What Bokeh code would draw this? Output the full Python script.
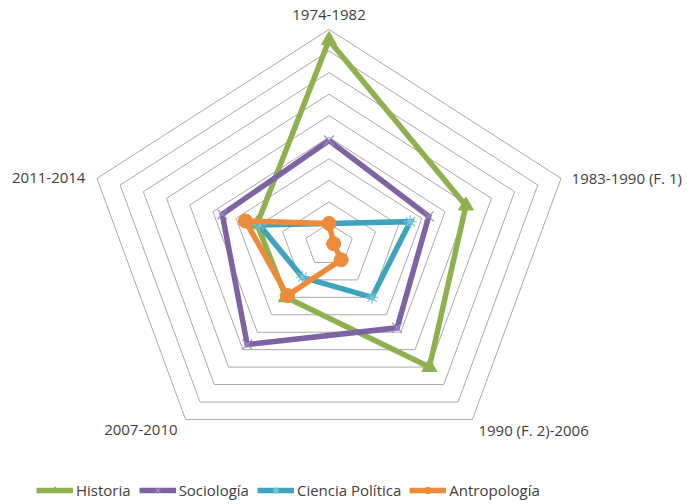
import numpy as np
from bokeh.plotting import figure
from bokeh.models import Range1d, Legend, LegendItem
from bokeh.core.properties import value
from bokeh.embed import file_html
from bokeh.resources import INLINE

# ---- data ----
categories = ["1974-1982", "1983-1990 (F. 1)", "1990 (F. 2)-2006", "2007-2010", "2011-2014"]
historia = [9.5, 5.9, 7.0, 3.0, 3.1]
sociologia = [4.85, 4.3, 4.75, 5.7, 4.6]
ciencia_politica = [1.0, 3.5, 3.0, 1.85, 3.0]
antropologia = [1.0, 0.2, 0.85, 2.9, 3.6]
series_names = ["Historia", "Sociología", "Ciencia Política", "Antropología"]
ring_values = list(range(1, 11))

# ---- geometry ----
W, H = 687, 504
RX, RY = 24.4, 21.56          # pixels per unit (chart is stretched horizontally)
n = len(categories)
theta = np.arange(n) * 2 * np.pi / n
sx, sy = np.sin(theta), np.cos(theta)

def to_xy(vals):
    v = np.asarray(vals, dtype=float)
    return list(RX * v * sx), list(RY * v * sy)

p = figure(width=W, height=H, output_backend="svg", toolbar_location=None,
           x_range=Range1d(-328.5, 358.5), y_range=Range1d(-259.5, 244.5),
           min_border=0)
p.axis.visible = False
p.grid.visible = False
p.outline_line_color = None
p.background_fill_color = "white"

# rings
ring_xs, ring_ys = [], []
for r in ring_values:
    xs, ys = to_xy([r] * n)
    ring_xs.append(xs + [xs[0]])
    ring_ys.append(ys + [ys[0]])
p.multi_line(ring_xs, ring_ys, line_color="#a9a9a9", line_width=1)

# series
styles = [
    dict(color="#8FB04F", marker="triangle", size=15, mcolor="#8FB04F", mfill="#8FB04F", mw=1),
    dict(color="#7F62A1", marker="x", size=14, mcolor="#A08BC2", mfill=None, mw=1.2),
    dict(color="#3EA4BE", marker="asterisk", size=13, mcolor="#7CC6DA", mfill=None, mw=1.2),
    dict(color="#EE8B3A", marker="circle", size=14, mcolor="#EE8B3A", mfill="#EE8B3A", mw=1),
]
all_series = [historia, sociologia, ciencia_politica, antropologia]
items = []
for name, vals, st in zip(series_names, all_series, styles):
    xs, ys = to_xy(vals)
    ln = p.line(xs + [xs[0]], ys + [ys[0]], line_color=st["color"], line_width=5.5,
                line_join="miter")
    sc = p.scatter(xs, ys, marker=st["marker"], size=st["size"], line_color=st["mcolor"],
                   line_width=st["mw"], fill_color=st["mfill"])
    items.append(LegendItem(label=name, renderers=[ln, sc]))

# category labels
ox = [0, 10.5, 6, -8, -11.5]
oy = [14.5, 0, -11, -11, 0]
aligns = ["center", "left", "left", "right", "right"]
for i, cat in enumerate(categories):
    vx = RX * 10 * sx[i] + ox[i]
    vy = RY * 10 * sy[i] + oy[i]
    p.text([vx], [vy], text=[cat], text_align=aligns[i], text_baseline="middle",
           text_font=value("Open Sans"), text_font_size="15px", text_color="#404040")

legend = Legend(items=items, orientation="horizontal", location=(36, 4),
                glyph_width=37, glyph_height=16, label_height=16, label_standoff=3,
                spacing=8, padding=0, margin=0, border_line_alpha=0,
                background_fill_alpha=0, label_text_font="Open Sans",
                label_text_font_size="15px", label_text_color="#404040")
p.add_layout(legend, "center")

open("out.html", "w").write(file_html(p, INLINE))
